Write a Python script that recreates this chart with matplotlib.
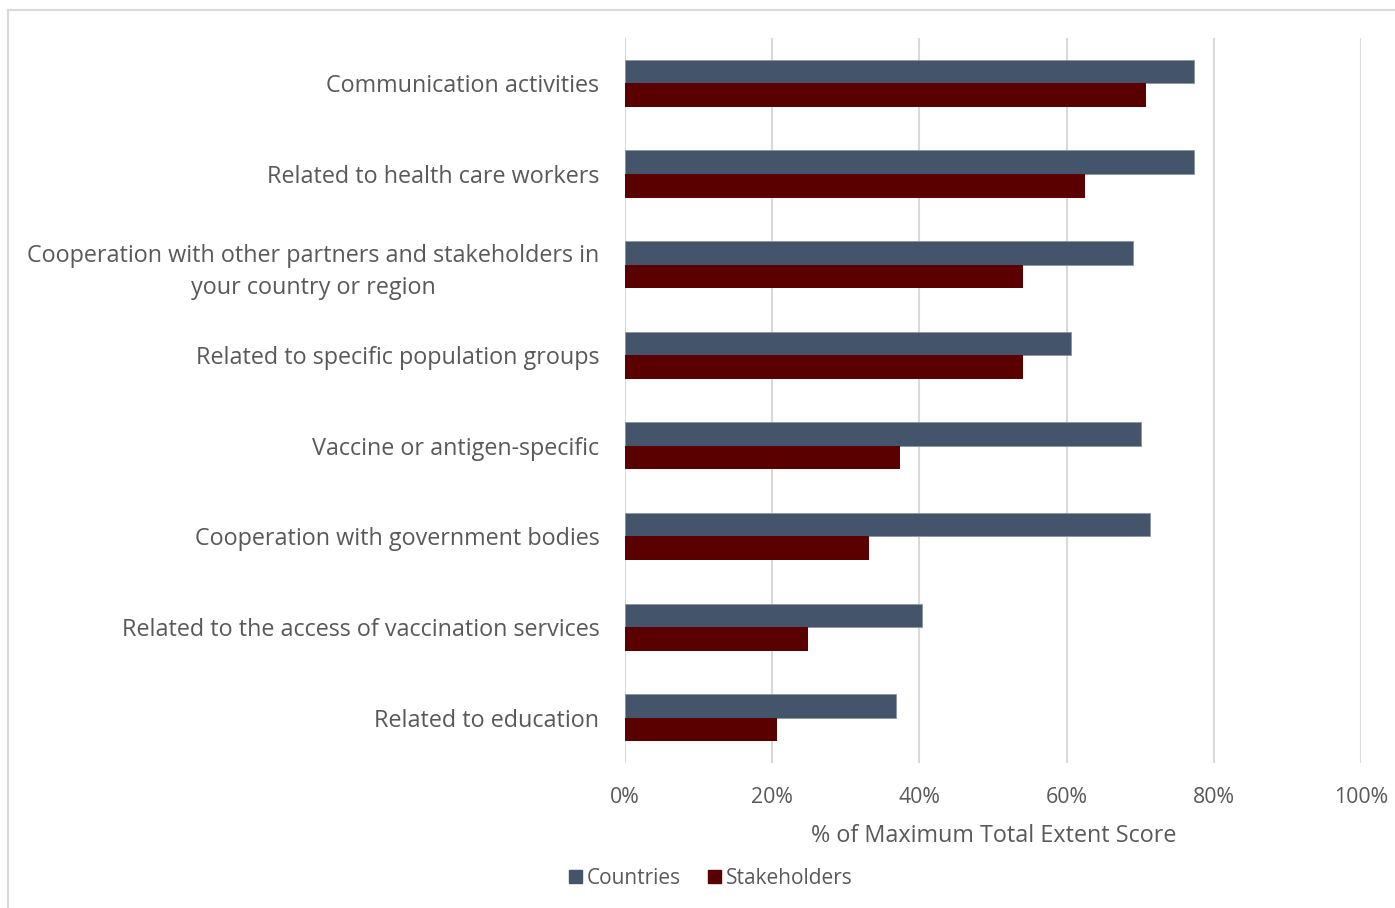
import matplotlib
matplotlib.use("Agg")
import matplotlib.pyplot as plt
from matplotlib.patches import Rectangle, Patch
import numpy as np

categories = [
    "Communication activities",
    "Related to health care workers",
    "Cooperation with other partners and stakeholders in\nyour country or region",
    "Related to specific population groups",
    "Vaccine or antigen-specific",
    "Cooperation with government bodies",
    "Related to the access of vaccination services",
    "Related to education",
]
countries = [77.3, 77.3, 69.0, 60.6, 70.1, 71.3, 40.4, 36.8]
stakeholders = [70.8, 62.5, 54.1, 54.1, 37.4, 33.2, 24.9, 20.7]
xticks = [0, 20, 40, 60, 80, 100]
xtick_labels = ["0%", "20%", "40%", "60%", "80%", "100%"]
series_names = ["Countries", "Stakeholders"]

c_col = "#44546A"
s_col = "#5B0000"
txt = "#595959"
plt.rcParams['font.family'] = ['Open Sans', 'DejaVu Sans']

fig = plt.figure(figsize=(13.95, 9.08), dpi=100)
ax = fig.add_axes([625/1395, 1-763/908, 736/1395, 725/908])

n = len(categories)
y = np.arange(n)
h = 0.26
ax.barh(y - h/2, countries, height=h, color=c_col, edgecolor="#8a94a3", linewidth=0.6, zorder=3)
ax.barh(y + h/2, stakeholders, height=h, color=s_col, zorder=3)
ax.set_ylim(n - 0.5, -0.5)
ax.set_xlim(0, 100)
ax.set_xticks(xticks)
ax.set_xticklabels(xtick_labels, fontsize=15.3, color=txt)
ax.set_yticks(y)
ax.set_yticklabels(categories, fontsize=16.8, color=txt, multialignment="center", linespacing=1.45)
ax.tick_params(length=0)
ax.tick_params(axis="x", pad=17)
ax.tick_params(axis="y", pad=18.5)
ax.grid(axis="x", color="#D9D9D9", linewidth=1.5, zorder=0)
for s in ax.spines.values():
    s.set_visible(False)
ax.set_xlabel("% of Maximum Total Extent Score", fontsize=16.8, color=txt)
ax.xaxis.set_label_coords((994-625)/736, -(836-763)/725)
ax.xaxis.label.set_va("center")

handles = [Patch(color=c_col), Patch(color=s_col)]
fig.legend(handles, series_names, loc="center", bbox_to_anchor=(711/1395, 1-878/908),
           ncol=2, frameon=False, fontsize=15, handlelength=0.6, handleheight=0.6,
           handletextpad=0.25, columnspacing=1.3, labelcolor=txt)

fig.patches.append(Rectangle((8/1395, -0.1), 1.2, 1 - 10/908 + 0.1, transform=fig.transFigure,
                             fill=False, edgecolor="#D9D9D9", linewidth=1.5))

fig.savefig("out.png", dpi=100)
